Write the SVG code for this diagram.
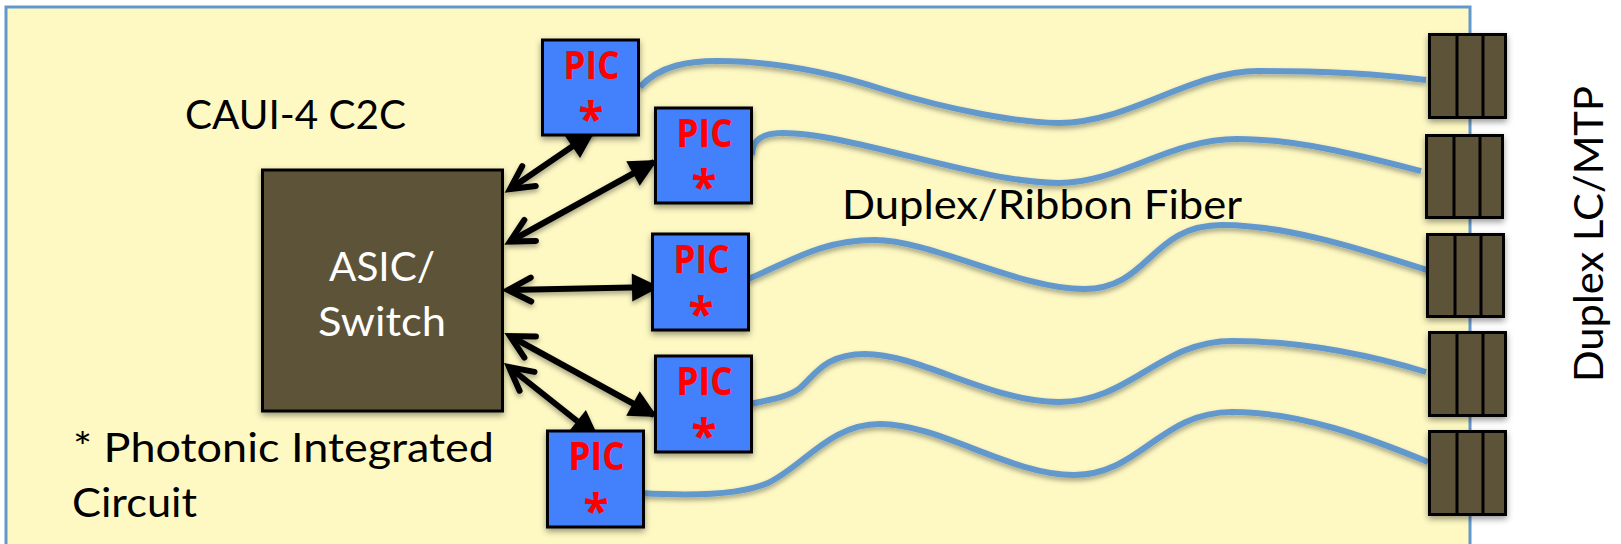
<svg xmlns="http://www.w3.org/2000/svg" width="1621" height="544" viewBox="0 0 1621 544">
<defs>
<filter id="sh" x="-15%" y="-15%" width="130%" height="130%"><feDropShadow dx="0" dy="3" stdDeviation="3" flood-color="#000" flood-opacity="0.4"/></filter>
<filter id="shg" filterUnits="userSpaceOnUse" x="0" y="0" width="1621" height="544"><feDropShadow dx="0" dy="3" stdDeviation="2.500" flood-color="#000" flood-opacity="0.35"/></filter>
<marker id="solid" markerUnits="userSpaceOnUse" markerWidth="40" markerHeight="40" refX="24" refY="15" orient="auto-start-reverse" overflow="visible"><path d="M0 1 L28 15 L0 29 Z" fill="#000" stroke="none"/></marker>
<marker id="open" markerUnits="userSpaceOnUse" markerWidth="40" markerHeight="40" refX="26" refY="15" orient="auto-start-reverse" overflow="visible"><path d="M3 3 L26 15 L3 27" fill="none" stroke="#000" stroke-width="6" stroke-linecap="round" stroke-linejoin="miter"/></marker>
</defs>
<style>
text{font-family:Lato,"Noto Sans","Liberation Sans",sans-serif}
.pic{fill:#4280fc;stroke:#000;stroke-width:3;filter:url(#sh)}
.pl{font-family:"Open Sans","Liberation Sans",sans-serif;font-size:39px;font-weight:700;fill:#fe0000;text-anchor:middle}
.st{font-family:"Open Sans","Liberation Sans",sans-serif;font-size:46px;font-weight:700;fill:#fe0000;text-anchor:middle}
.dark{fill:#5c5237;stroke:#000;stroke-width:3;filter:url(#sh)}
.seg{fill:none;stroke:#000;stroke-width:3}
.fib{fill:none;stroke:#6398cd;stroke-width:6}
.arr{stroke:#000;stroke-width:6;fill:none;marker-start:url(#open);marker-end:url(#solid)}
.t{font-size:41px;fill:#000}
</style>
<g id="panel"><rect x="6" y="7" width="1464" height="545" fill="#fef9c3" stroke="#6398cd" stroke-width="3"/></g>
<g id="asic"><rect class="dark" x="262.500" y="170" width="240" height="241"/><text x="382" y="281" font-size="41" fill="#fff" text-anchor="middle" textLength="106" lengthAdjust="spacingAndGlyphs">ASIC/</text><text x="382" y="336" font-size="41" fill="#fff" text-anchor="middle" textLength="128" lengthAdjust="spacingAndGlyphs">Switch</text></g>
<g id="connectors">
<g filter="url(#shg)">
<path class="arr" d="M510 189 L592 133"/>
<path class="arr" d="M510 241.500 L654 162"/>
<path class="arr" d="M508 290 L656 287"/>
<path class="arr" d="M510 336 L654 415"/>
<path class="arr" d="M509 367 L596 436"/>
</g>
<g filter="url(#shg)">
<path class="fib" d="M640 87 C660 65 690 61 717 61 C770 61 830 72 885 90 C950 110 1020 123 1059 123 C1130 123 1190 71 1258 71 C1320 71 1380 74 1426 80"/>
<path class="fib" d="M752 155 C752 138 765 133 783 133 C850 133 980 183 1059 183 C1120 183 1170 139 1237 139 C1300 139 1370 158 1421 171"/>
<path class="fib" d="M748 279 C790 262 820 240 875 240 C930 240 1020 289 1084 289 C1150 289 1150 225 1222 225 C1290 225 1370 252 1430 271"/>
<path class="fib" d="M750 404 C775 399 790 396 800 388 C815 375 825 354 865 354 C920 354 990 402 1059 402 C1130 402 1160 341 1232 341 C1300 341 1370 355 1426 372"/>
<path class="fib" d="M641 493 C690 496 740 495 768 483 C805 465 830 424 880 424 C940 424 1010 475 1074 475 C1140 475 1160 412 1232 412 C1300 412 1370 438 1428 462"/>
</g>
</g>
<g id="pic1"><rect class="pic" x="542.500" y="40" width="96" height="95"/><text class="pl" x="591.500" y="79" textLength="56" lengthAdjust="spacingAndGlyphs">PIC</text><text class="st" x="591" y="136">*</text></g>
<g id="pic2"><rect class="pic" x="655.500" y="108" width="96" height="95"/><text class="pl" x="704.500" y="147" textLength="56" lengthAdjust="spacingAndGlyphs">PIC</text><text class="st" x="704" y="204">*</text></g>
<g id="pic3"><rect class="pic" x="652.500" y="234" width="96" height="96"/><text class="pl" x="701.500" y="273" textLength="56" lengthAdjust="spacingAndGlyphs">PIC</text><text class="st" x="701" y="331">*</text></g>
<g id="pic4"><rect class="pic" x="655.500" y="356" width="96" height="96"/><text class="pl" x="704.500" y="395" textLength="56" lengthAdjust="spacingAndGlyphs">PIC</text><text class="st" x="704" y="453">*</text></g>
<g id="pic5"><rect class="pic" x="547.500" y="431" width="96" height="96"/><text class="pl" x="596.500" y="470" textLength="56" lengthAdjust="spacingAndGlyphs">PIC</text><text class="st" x="596" y="528">*</text></g>
<g id="conn1"><rect class="dark" x="1429.500" y="34.500" width="76" height="83"/><path class="seg" d="M1457 34V117M1483 34V117"/></g>
<g id="conn2"><rect class="dark" x="1426.500" y="135.500" width="76" height="82"/><path class="seg" d="M1454 135V218M1480 135V218"/></g>
<g id="conn3"><rect class="dark" x="1427.500" y="234.500" width="76" height="82"/><path class="seg" d="M1455 234V316M1481 234V316"/></g>
<g id="conn4"><rect class="dark" x="1429.500" y="332.500" width="76" height="83"/><path class="seg" d="M1457 332V415M1483 332V415"/></g>
<g id="conn5"><rect class="dark" x="1429.500" y="431.500" width="76" height="83"/><path class="seg" d="M1457 431V514M1483 431V514"/></g>
<g id="labels">
<text class="t" x="185" y="129" textLength="221" lengthAdjust="spacingAndGlyphs">CAUI-4 C2C</text>
<text class="t" x="842" y="219" textLength="400" lengthAdjust="spacingAndGlyphs">Duplex/Ribbon Fiber</text>
<text class="t" x="73" y="462" textLength="421" lengthAdjust="spacingAndGlyphs">* Photonic Integrated</text>
<text class="t" x="72" y="517" textLength="125" lengthAdjust="spacingAndGlyphs">Circuit</text>
<text class="t" transform="translate(1603 382) rotate(-90)" textLength="296" lengthAdjust="spacingAndGlyphs">Duplex LC/MTP</text>
</g>
</svg>
